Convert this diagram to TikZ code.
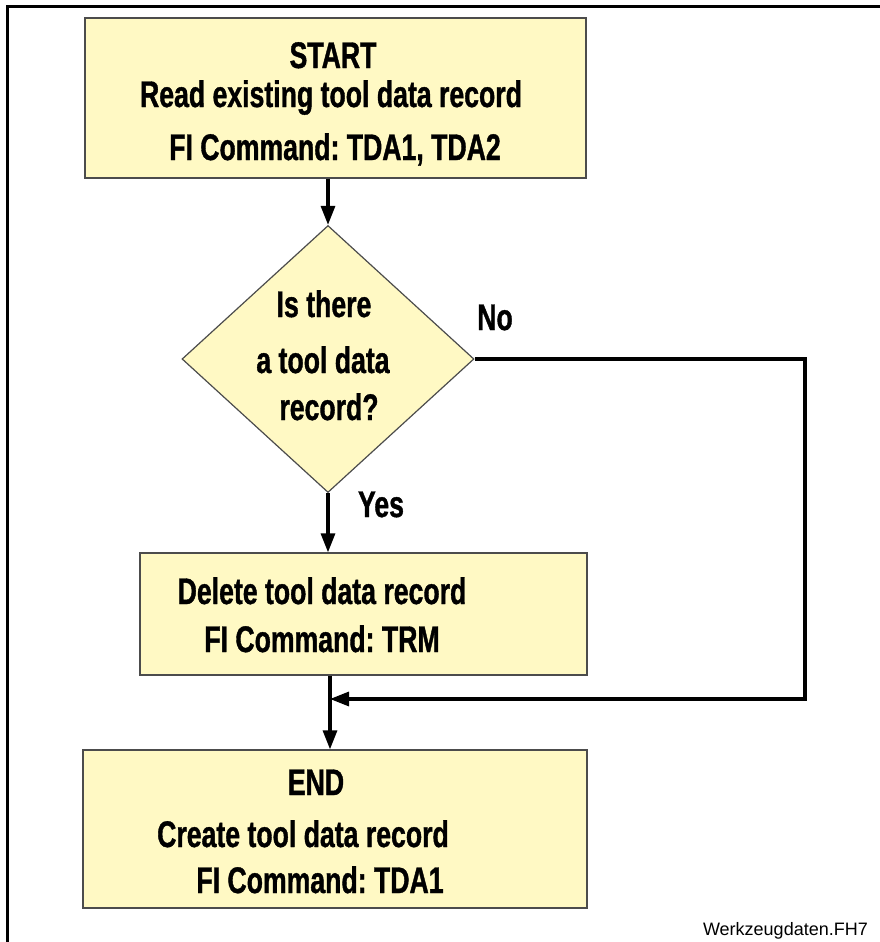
\documentclass[tikz,border=0pt]{standalone}
\usepackage{fontspec}
\setmainfont{Liberation Sans}[FakeStretch=0.72, BoldFeatures={FakeBold=1}]
\newfontfamily\filefont{Liberation Sans}
\usetikzlibrary{arrows.meta,shapes.geometric}
\frenchspacing

\definecolor{boxfill}{RGB}{255,249,196}

\begin{document}
\begin{tikzpicture}[
  x=1pt,
  y=-1pt,
  stepbox/.style={draw=black!70, fill=boxfill, line width=1.2pt, inner sep=0pt},
  question/.style={diamond, draw=black!70, fill=boxfill, line width=1.2pt, inner sep=0pt},
  boxtext/.style={anchor=base, inner sep=0pt, font=\bfseries\fontsize{37}{42}\selectfont},
  flow/.style={line width=3.2pt, -{Triangle[length=19pt,width=14pt]}}
]
\useasboundingbox (0,0) rectangle (880,942);
\draw[line width=3pt] (880,6.5) -- (7,6.5) -- (7,942);

\node[stepbox, minimum width=501, minimum height=160] (start) at (335.5,98) {};
\node[boxtext] (startA) at (333,68) {START};
\node[boxtext] (startB) at (331,107) {Read existing tool data record};
\node[boxtext] (startC) at (335,160) {FI Command: TDA1, TDA2};

\node[question, minimum width=292, minimum height=267] (ask) at (328,359) {};
\node[boxtext] (askA) at (324,317) {Is there};
\node[boxtext] (askB) at (323,373) {a tool data};
\node[boxtext] (askC) at (329,420) {record?};

\node[boxtext] (no) at (495,330) {No};
\node[boxtext] (yes) at (381,517) {Yes};

\node[stepbox, minimum width=447, minimum height=122] (remove) at (363.5,614) {};
\node[boxtext] (removeA) at (322,604) {Delete tool data record};
\node[boxtext] (removeB) at (322,652) {FI Command: TRM};

\node[stepbox, minimum width=504, minimum height=158] (finish) at (335,829) {};
\node[boxtext] (finishA) at (316,795) {END};
\node[boxtext] (finishB) at (303,847) {Create tool data record};
\node[boxtext] (finishC) at (320,893) {FI Command: TDA1};

\node[anchor=base east, inner sep=0pt, font=\filefont\fontsize{18}{20}\selectfont] (fname) at (868,935) {Werkzeugdaten.FH7};

\coordinate (join) at (330,699);
\coordinate (turn) at (805,699);

\draw[flow] (start.south -| ask.north) -- (ask.north);
\draw[flow] (ask.south) -- (remove.north -| ask.south);
\draw[flow] (ask.east) -| (turn) -- (join);
\draw[flow] (remove.south -| join) -- (finish.north -| join);
\end{tikzpicture}
\end{document}
